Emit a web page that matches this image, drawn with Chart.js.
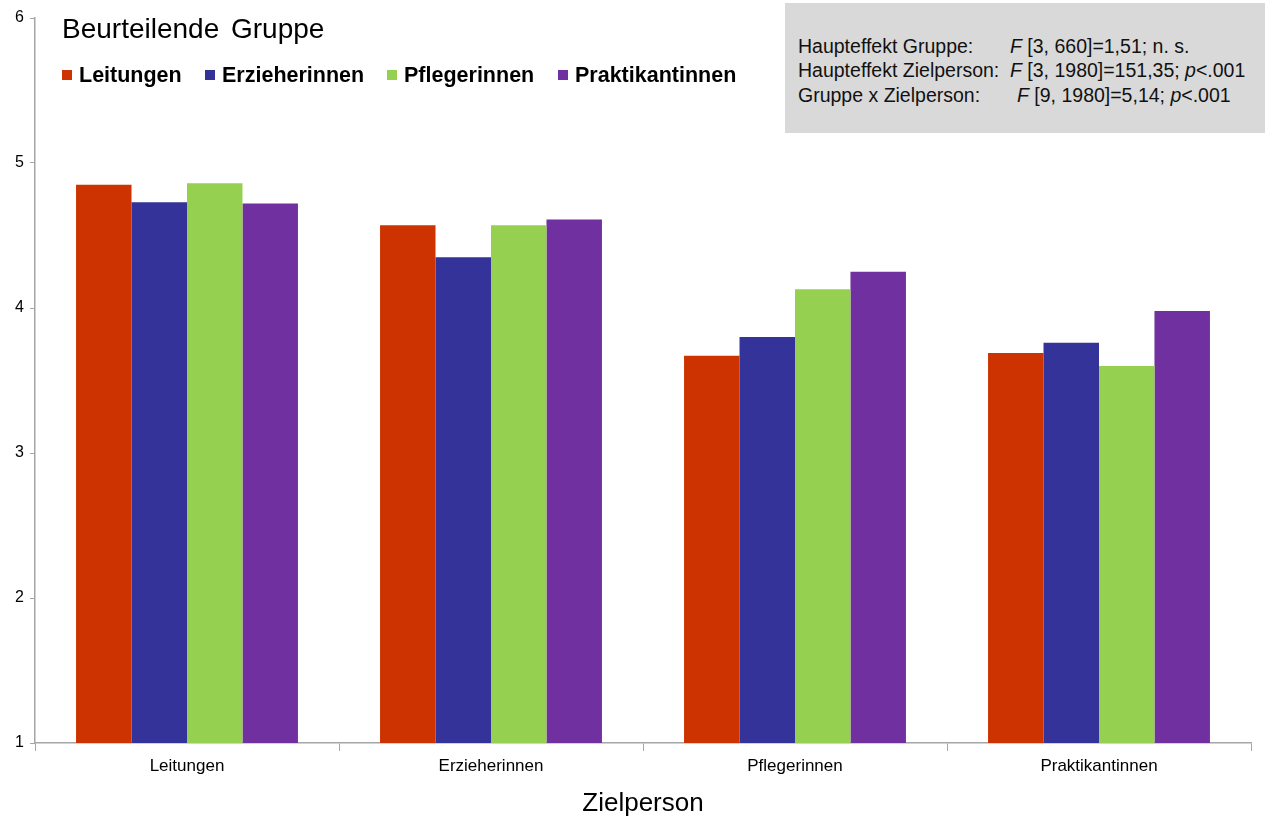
<!DOCTYPE html>
<html>
<head>
<meta charset="utf-8">
<script src="https://cdn.jsdelivr.net/npm/chart.js@4.4.1/dist/chart.umd.min.js"></script>
<style>
body{margin:0;background:#fff;font-family:"Liberation Sans",Arial,sans-serif;}
#wrap{position:relative;width:1269px;height:823px;}
#title{position:absolute;left:62px;top:13px;font-size:28px;color:#000;word-spacing:4px;}
.lg{position:absolute;top:63px;font-size:21.5px;font-weight:bold;color:#000;white-space:nowrap;}
.lg i{display:inline-block;width:10px;height:10px;margin-right:7px;vertical-align:2px;}
#stats{position:absolute;left:785px;top:3px;width:480px;height:130px;background:#d9d9d9;}
.st{position:absolute;font-size:19.5px;color:#111;white-space:nowrap;}
</style>
</head>
<body>
<div id="wrap">
<canvas id="barChart" width="1269" height="823"></canvas>
<div id="title">Beurteilende Gruppe</div>
<div id="legend"></div>
<div id="stats"></div>
</div>
<script>
var categories = ['Leitungen', 'Erzieherinnen', 'Pflegerinnen', 'Praktikantinnen'];
var groups = ['Leitungen', 'Erzieherinnen', 'Pflegerinnen', 'Praktikantinnen'];
var colors = ['#cc3300', '#333399', '#96d050', '#7030a0'];
var leitungen = [4.85, 4.57, 3.67, 3.69];
var erzieherinnen = [4.73, 4.35, 3.80, 3.76];
var pflegerinnen = [4.86, 4.57, 4.13, 3.60];
var praktikantinnen = [4.72, 4.61, 4.25, 3.98];
var yTicks = [1, 2, 3, 4, 5, 6];
var statLabels = ['Haupteffekt Gruppe:', 'Haupteffekt Zielperson:', 'Gruppe x Zielperson:'];
var statValues = ['<i>F</i> [3, 660]=1,51; n. s.', '<i>F</i> [3, 1980]=151,35; <i>p</i>&lt;.001', '<i>F</i> [9, 1980]=5,14; <i>p</i>&lt;.001'];

$ = function (id) { return document.getElementById(id); };

// legend
var legendX = [62, 205, 387, 558];
var lgHtml = '';
for (var i = 0; i < groups.length; i++) {
    lgHtml += '<div class="lg" style="left:' + legendX[i] + 'px"><i style="background:' + colors[i] + '"></i>' + groups[i] + '</div>';
}
$('legend').innerHTML = lgHtml;

// stats box
var stHtml = '';
var statTop = [35, 59, 84];
var statValX = [1010, 1010, 1017];
for (var j = 0; j < statLabels.length; j++) {
    stHtml += '<div class="st" style="left:798px;top:' + statTop[j] + 'px">' + statLabels[j] + '</div>';
    stHtml += '<div class="st" style="left:' + statValX[j] + 'px;top:' + statTop[j] + 'px">' + statValues[j] + '</div>';
}
$('wrap').insertAdjacentHTML('beforeend', stHtml);

var seriesData = [leitungen, erzieherinnen, pflegerinnen, praktikantinnen];
var datasets = [];
for (var k = 0; k < groups.length; k++) {
    datasets.push({
        label: groups[k],
        data: seriesData[k],
        backgroundColor: colors[k],
        borderWidth: 0,
        categoryPercentage: 0.73,
        barPercentage: 1.0
    });
}

new Chart($('barChart').getContext('2d'), {
    type: 'bar',
    data: { labels: categories, datasets: datasets },
    options: {
        responsive: false,
        animation: false,
        layout: { padding: { top: 18, right: 18, left: 0, bottom: 0 } },
        plugins: { legend: { display: false }, tooltip: { enabled: false } },
        scales: {
            x: {
                offset: true,
                border: { color: '#a6a6a6', width: 1.5 },
                grid: { offset: true, drawOnChartArea: false, drawTicks: true, tickLength: 8, color: '#a6a6a6' },
                ticks: { color: '#000', font: { family: 'Liberation Sans', size: 17 }, padding: 5 },
                title: { display: true, text: 'Zielperson', color: '#000', font: { family: 'Liberation Sans', size: 26 }, padding: { top: 6 } },
                afterFit: function (s) { s.height = 80; }
            },
            y: {
                min: 1,
                max: 6,
                afterBuildTicks: function (s) { s.ticks = yTicks.map(function (v) { return { value: v }; }); },
                border: { color: '#a6a6a6', width: 1.5 },
                grid: { drawOnChartArea: false, drawTicks: true, tickLength: 5, color: '#a6a6a6' },
                ticks: { color: '#000', font: { family: 'Liberation Sans', size: 16 }, padding: 6 },
                afterFit: function (s) { s.width = 35; }
            }
        }
    }
});
</script>
</body>
</html>
